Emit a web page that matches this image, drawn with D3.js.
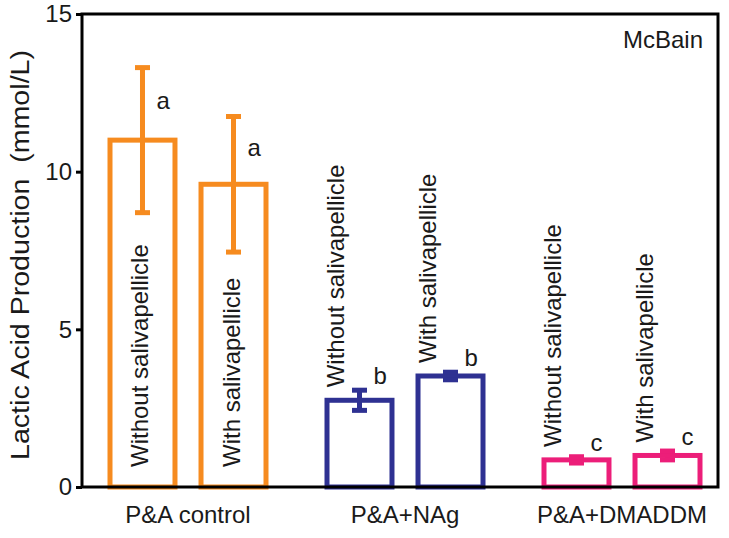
<!DOCTYPE html>
<html>
<head>
<meta charset="utf-8">
<script src="https://cdn.jsdelivr.net/npm/d3@7"></script>
<style>
  html, body { margin: 0; padding: 0; background: #fff; }
  text { font-family: "Liberation Sans", Arial, Helvetica, sans-serif; fill: #1a1a1a; }
</style>
</head>
<body>
<script>
// ---- data ----
const groups = ["P&A control", "P&A+NAg", "P&A+DMADDM"];
const conditions = ["Without salivapellicle", "With salivapellicle"];
const means = [[11.0, 9.6], [2.75, 3.52], [0.86, 1.0]];
const errors = [[2.3, 2.15], [0.32, 0.12], [0.1, 0.14]];
const letters = [["a", "a"], ["b", "b"], ["c", "c"]];
const groupColors = ["#F68B1F", "#2E3192", "#EC1E79"];
const yTicks = [0, 5, 10, 15];
const yTitle = "Lactic Acid Production  (mmol/L)";
const panelLabel = "McBain";

// ---- layout ----
const W = 729, H = 538;
const plot = { left: 82, right: 718, top: 14, bottom: 487 };

const svg = d3.select("body").append("svg").attr("width", W).attr("height", H);

const y = d3.scaleLinear().domain([0, 15]).range([plot.bottom, plot.top]);
const x0 = d3.scalePoint().domain(groups).range([188, 622]);
const x1 = d3.scaleBand().domain(conditions).range([-78, 78]).paddingInner(0.286).paddingOuter(0);

const bars = [];
groups.forEach((g, gi) => {
  conditions.forEach((c, ci) => {
    bars.push({ g, c, gi, ci, v: means[gi][ci], e: errors[gi][ci], letter: letters[gi][ci], color: groupColors[gi] });
  });
});

const bw = x1.bandwidth();
const cx = d => x0(d.g) + x1(d.c) + bw / 2;

// bars
svg.selectAll("rect.bar").data(bars).enter().append("rect")
  .attr("class", "bar")
  .attr("x", d => cx(d) - bw / 2)
  .attr("width", bw)
  .attr("y", d => y(d.v))
  .attr("height", d => y(0) - y(d.v))
  .attr("fill", "none")
  .attr("stroke", d => d.color)
  .attr("stroke-width", 5);

// error bars
const eb = svg.selectAll("g.err").data(bars).enter().append("g").attr("class", "err")
  .attr("stroke", d => d.color).attr("stroke-width", 5);
eb.append("line").attr("x1", cx).attr("x2", cx)
  .attr("y1", d => y(d.v + d.e)).attr("y2", d => y(d.v - d.e));
eb.append("line").attr("x1", d => cx(d) - 7.5).attr("x2", d => cx(d) + 7.5)
  .attr("y1", d => y(d.v + d.e)).attr("y2", d => y(d.v + d.e));
eb.append("line").attr("x1", d => cx(d) - 7.5).attr("x2", d => cx(d) + 7.5)
  .attr("y1", d => y(d.v - d.e)).attr("y2", d => y(d.v - d.e));

// significance letters
svg.selectAll("text.letter").data(bars).enter().append("text")
  .attr("class", "letter")
  .attr("x", d => cx(d) + 14)
  .attr("y", d => {
    const top = y(d.v + d.e), val = y(d.v);
    return (val - top) > 30 ? top + 0.55 * (val - top) + 2 : top - 6;
  })
  .attr("font-size", 24)
  .text(d => d.letter);

// rotated condition labels
svg.selectAll("text.cond").data(bars).enter().append("text")
  .attr("class", "cond")
  .attr("font-size", 24)
  .attr("transform", d => {
    const inside = (y(0) - y(d.v)) > 260;
    const tx = inside ? cx(d) + 6 : cx(d) - 15;
    const ty = inside ? y(0) - 20 : y(d.v) - 13;
    return `translate(${tx},${ty}) rotate(-90)`;
  })
  .text(d => d.c);

// frame (axes box)
svg.append("rect")
  .attr("x", plot.left).attr("y", plot.top)
  .attr("width", plot.right - plot.left).attr("height", plot.bottom - plot.top)
  .attr("fill", "none").attr("stroke", "#000").attr("stroke-width", 3);

// y axis
const yAxis = d3.axisLeft(y).tickValues(yTicks).tickSize(6).tickPadding(4).tickFormat(d3.format("d"));
const ya = svg.append("g").attr("transform", `translate(${plot.left},0)`).call(yAxis);
ya.select(".domain").remove();
ya.selectAll(".tick line").attr("stroke", "#000").attr("stroke-width", 3);
ya.selectAll(".tick text").attr("font-size", 24).attr("fill", "#1a1a1a")
  .attr("font-family", "Liberation Sans, Arial, sans-serif");

// x category labels
svg.selectAll("text.cat").data(groups).enter().append("text")
  .attr("class", "cat")
  .attr("x", d => x0(d)).attr("y", 523)
  .attr("text-anchor", "middle").attr("font-size", 24)
  .text(d => d);

// y title
svg.append("text")
  .attr("transform", "translate(29,255) rotate(-90)")
  .attr("text-anchor", "middle").attr("font-size", 26)
  .attr("textLength", 410).attr("lengthAdjust", "spacingAndGlyphs")
  .attr("xml:space", "preserve").style("white-space", "pre")
  .text(yTitle);

// panel label
svg.append("text")
  .attr("x", 703).attr("y", 48).attr("text-anchor", "end").attr("font-size", 24)
  .text(panelLabel);
</script>
</body>
</html>
